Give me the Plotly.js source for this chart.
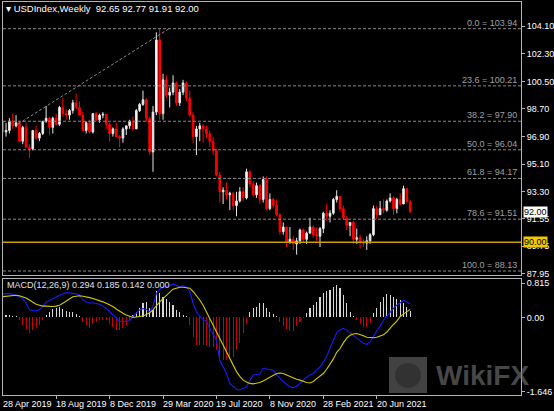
<!DOCTYPE html>
<html><head><meta charset="utf-8">
<script src="https://cdn.plot.ly/plotly-3.0.1.min.js"></script>
<style>html,body{margin:0;padding:0;background:#000;}#chart{width:554px;height:411px;}</style>
</head><body><div id="chart"></div>
<script>
// Weekly bars, first bar = week of 28 Apr 2019 (one bar per week)
const startDate = '2019-04-28';
const open = [97.9,97.2,97.3,97.9,97.6,97.8,96.6,97.5,96.2,96.1,97.3,96.8,97.1,97.9,98.1,97.5,98.1,97.7,98.8,98.4,
98.3,98.6,99.1,98.8,98.3,97.3,97.8,97.2,98.4,98.0,98.3,98.35,97.7,97.1,97.4,96.9,96.8,97.4,97.6,97.9,
97.4,98.6,99.0,99.3,98.1,95.9,98.5,103.2,98.4,100.6,99.6,99.8,100.4,99.1,99.8,100.4,99.4,98.3,96.9,97.4,
97.6,97.4,97.1,96.6,96.0,94.4,93.3,93.4,93.1,93.2,92.4,92.7,93.3,92.9,94.6,93.8,93.1,93.7,92.8,94.1,
92.2,92.8,92.4,91.8,90.7,91.0,90.0,90.2,89.9,90.1,90.8,90.2,90.6,91.0,90.5,90.4,90.9,91.9,91.7,91.9,
92.8,93.0,92.2,91.6,91.1,91.3,90.2,90.3,90.0,89.95,90.1,90.5,92.2,91.8,92.2,92.1,92.7,92.9,92.2,92.8,
92.5,93.5,92.65];
const high = [98.1,97.8,98.1,98.4,98.3,97.9,97.6,97.8,96.4,97.3,97.6,97.2,97.9,98.9,98.2,98.2,98.4,98.9,99.4,98.7,
98.7,99.3,99.7,99.2,98.5,97.9,98.0,98.4,98.5,98.4,98.5,98.4,97.8,97.5,97.8,97.0,97.5,97.6,98.0,98.2,
98.7,99.1,99.9,99.4,98.2,98.9,103.7,103.94,101.0,100.9,100.1,100.9,100.5,100.0,100.6,100.5,99.9,98.5,97.6,97.8,
97.7,97.6,97.3,96.9,96.1,94.6,93.6,93.9,93.3,93.3,93.3,93.6,93.6,94.8,94.7,94.0,93.9,93.8,94.3,94.3,
93.2,92.9,92.8,91.9,91.3,91.0,91.0,90.4,90.3,90.9,90.9,90.7,91.6,91.1,91.0,91.0,92.0,92.5,92.1,92.9,
93.4,93.0,92.4,91.7,91.3,91.4,90.9,90.5,90.2,90.4,90.6,92.4,92.4,92.7,92.8,92.8,93.2,93.0,92.9,93.2,
93.7,93.5,92.77];
const low = [97.0,96.9,97.1,97.4,97.5,96.5,96.4,96.2,95.5,96.0,96.7,96.6,97.0,97.8,97.0,97.1,97.6,97.6,98.2,98.0,
98.0,98.4,98.7,98.3,97.3,97.1,97.1,97.1,97.9,97.8,98.1,97.4,96.6,96.9,96.9,96.2,96.5,97.0,97.4,97.3,
97.4,98.5,98.9,97.9,95.7,94.6,98.3,98.0,98.0,99.4,98.8,99.6,98.9,98.9,99.6,99.2,98.2,96.5,95.7,96.6,
96.5,96.8,96.2,95.7,94.3,92.6,92.5,92.8,92.1,92.1,91.7,92.6,92.7,92.8,93.6,93.0,92.9,92.5,92.6,92.1,
92.1,92.2,91.7,90.5,90.5,89.7,89.9,89.5,89.2,89.9,90.0,89.9,90.6,90.3,90.1,89.7,90.6,91.4,91.3,91.8,
92.6,92.0,91.5,90.8,90.4,89.9,89.9,89.6,89.7,89.5,89.9,90.4,91.5,91.8,91.9,92.0,92.6,91.8,91.9,92.4,
92.5,92.6,91.91];
const close = [97.2,97.3,97.9,97.6,97.8,96.6,97.5,96.2,96.1,97.3,96.8,97.1,97.9,98.1,97.5,98.1,97.7,98.8,98.4,98.3,
98.6,99.1,98.8,98.3,97.3,97.8,97.2,98.4,98.0,98.3,98.35,97.7,97.1,97.4,96.9,96.8,97.4,97.6,97.9,97.4,
98.6,99.0,99.3,98.1,95.9,98.5,103.2,98.4,100.6,99.6,99.8,100.4,99.1,99.8,100.4,99.4,98.3,96.9,97.4,97.6,
97.4,97.1,96.6,96.0,94.4,93.3,93.4,93.1,93.2,92.4,92.7,93.3,92.9,94.6,93.8,93.1,93.7,92.8,94.1,92.2,
92.8,92.4,91.8,90.7,91.0,90.0,90.2,89.9,90.1,90.8,90.2,90.6,91.0,90.5,90.4,90.9,91.9,91.7,91.9,92.8,
93.0,92.2,91.6,91.1,91.3,90.2,90.3,90.0,89.95,90.1,90.5,92.2,91.8,92.2,92.1,92.7,92.9,92.2,92.8,92.5,
93.5,92.65,92.00];

// MACD(12,26,9) panel values
const macdMain = [0.50,0.51,0.51,0.49,0.47,0.44,0.40,0.30,0.17,0.14,0.14,0.16,0.23,0.33,0.36,0.40,0.43,0.47,0.50,0.52,
0.52,0.51,0.50,0.47,0.37,0.33,0.30,0.31,0.30,0.28,0.24,0.19,0.12,0.05,-0.02,-0.08,-0.09,-0.08,-0.07,0.02,
0.10,0.16,0.19,0.17,0.12,0.23,0.51,0.60,0.64,0.66,0.67,0.71,0.68,0.65,0.67,0.64,0.55,0.30,0.12,0.02,
-0.04,-0.09,-0.23,-0.35,-0.48,-0.91,-1.05,-1.19,-1.40,-1.47,-1.53,-1.54,-1.51,-1.47,-1.34,-1.22,-1.21,-1.20,-1.08,-1.09,
-1.10,-1.12,-1.22,-1.30,-1.36,-1.42,-1.47,-1.49,-1.46,-1.40,-1.33,-1.27,-1.22,-1.19,-1.12,-1.05,-0.95,-0.83,-0.65,-0.48,
-0.32,-0.26,-0.23,-0.27,-0.32,-0.38,-0.44,-0.50,-0.55,-0.57,-0.52,-0.40,-0.30,-0.18,-0.06,0.03,0.12,0.19,0.26,0.31,
0.36,0.33,0.29];
const macdSignal = [0.44,0.45,0.46,0.47,0.47,0.46,0.44,0.41,0.37,0.32,0.28,0.26,0.24,0.24,0.23,0.23,0.24,0.26,0.30,0.35,
0.40,0.44,0.45,0.46,0.45,0.44,0.42,0.40,0.38,0.35,0.33,0.30,0.27,0.23,0.18,0.13,0.09,0.05,0.02,0.00,
0.01,0.02,0.03,0.06,0.10,0.16,0.25,0.33,0.40,0.47,0.54,0.60,0.62,0.64,0.64,0.63,0.62,0.55,0.47,0.37,
0.26,0.12,-0.02,-0.16,-0.30,-0.45,-0.59,-0.73,-0.87,-1.01,-1.15,-1.25,-1.33,-1.37,-1.40,-1.41,-1.40,-1.38,-1.35,-1.31,
-1.27,-1.22,-1.19,-1.18,-1.19,-1.22,-1.25,-1.29,-1.31,-1.33,-1.36,-1.38,-1.39,-1.36,-1.30,-1.24,-1.19,-1.10,-0.99,-0.88,
-0.74,-0.66,-0.54,-0.44,-0.38,-0.35,-0.34,-0.36,-0.39,-0.42,-0.43,-0.43,-0.42,-0.40,-0.37,-0.31,-0.22,-0.15,-0.08,0.02,
0.07,0.12,0.17];
const macdHist = [0.06,0.05,0.05,0.04,0.03,-0.06,-0.16,-0.27,-0.33,-0.27,-0.23,-0.16,-0.06,0.05,0.12,0.17,0.21,0.23,0.17,0.14,
0.12,0.12,0.07,0.02,-0.09,-0.16,-0.23,-0.13,-0.09,-0.06,-0.06,-0.06,-0.13,-0.20,-0.27,-0.27,-0.23,-0.16,-0.07,0.05,
0.12,0.19,0.30,0.33,0.21,0.16,0.55,0.51,0.44,0.40,0.33,0.26,0.16,0.12,0.05,0.02,-0.16,-0.41,-0.59,-0.59,
-0.59,-0.59,-0.62,-0.62,-0.69,-0.87,-0.90,-0.90,-0.89,-0.83,-0.69,-0.55,-0.34,-0.15,0.12,0.19,0.23,0.30,0.30,0.19,
0.12,0.07,0.02,-0.09,-0.18,-0.25,-0.28,-0.28,-0.18,-0.09,-0.02,0.09,0.19,0.26,0.33,0.44,0.51,0.55,0.58,0.65,
0.69,0.62,0.48,0.30,0.12,0.03,-0.06,-0.14,-0.20,-0.21,-0.11,0.09,0.19,0.33,0.44,0.49,0.47,0.44,0.40,0.37,
0.30,0.23,0.14];

// Fibonacci retracement levels and labels
const fibLevels = [103.94,100.21,97.90,96.04,94.17,91.51,88.13];
const fibLabels = ['0.0 = 103.94','23.6 = 100.21','38.2 = 97.90','50.0 = 96.04','61.8 = 94.17','78.6 = 91.51','100.0 = 88.13'];
const supportLevel = 90.00;
const lastPrice = 92.00;
// Trend line (bar index, price)
const trendFrom = [4.6, 97.72];
const trendTo = [50.1, 103.98];

// Axis ticks
const priceTicks = [104.10,102.30,100.50,98.70,96.90,95.10,93.30,91.55,89.75,87.95];
const priceTickText = ['104.10','102.30','100.50','98.70','96.90','95.10','93.30','91.55','89.75','87.95'];
const dateTickIdx = [0,16,32,48,64,80,96,112];
const dateTickText = ['28 Apr 2019','18 Aug 2019','8 Dec 2019','29 Mar 2020','19 Jul 2020','8 Nov 2020','28 Feb 2021','20 Jun 2021'];
const macdTickVals = [0.73,0,-1.58];
const macdTickText = ['0.815','0.00','-1.646'];

const WEEK = 7*864e5;
const t0 = Date.parse(startDate+'T00:00:00Z');
const dx = i => t0 + i*WEEK;
const iso = i => new Date(dx(i)).toISOString().slice(0,10);
const dates = close.map((_,i)=>iso(i));
const X0 = 0.09, X1 = 155.18;
const xr = [dx(X0), dx(X1)];

const FONT = 'Liberation Sans, Arial, sans-serif';
const AX = '#b4b4b4';

const traces = [
 {type:'candlestick', x:dates, open:open, high:high, low:low, close:close, xaxis:'x', yaxis:'y',
  increasing:{line:{color:'#e6e6e6',width:1}, fillcolor:'#ffffff'},
  decreasing:{line:{color:'#ff0000',width:1}, fillcolor:'#ff0000'},
  whiskerwidth:0, hoverinfo:'skip', showlegend:false},
 {type:'bar', x:dates, y:macdHist, xaxis:'x2', yaxis:'y2', width:0.33*WEEK,
  marker:{color:macdHist.map(v=>v>=0?'#d8d8d8':'#c80000'), line:{width:0}}, hoverinfo:'skip', showlegend:false},
 {type:'scatter', mode:'lines', x:dates, y:macdMain, xaxis:'x2', yaxis:'y2', line:{color:'#1a1aff',width:1.1}, hoverinfo:'skip', showlegend:false},
 {type:'scatter', mode:'lines', x:dates, y:macdSignal, xaxis:'x2', yaxis:'y2', line:{color:'#d2c800',width:1.1}, hoverinfo:'skip', showlegend:false}
];

const shapes = fibLevels.map(v=>({type:'line', xref:'paper', yref:'y', x0:0, x1:1, y0:v, y1:v,
  line:{color:'#8a8a8a', width:1, dash:'3px,2px'}}));
shapes.push({type:'line', xref:'paper', yref:'y', x0:0, x1:1, y0:supportLevel, y1:supportLevel, line:{color:'#c8a000', width:1.5}});
shapes.push({type:'line', xref:'x', yref:'y', x0:dx(trendFrom[0]), y0:trendFrom[1], x1:dx(trendTo[0]), y1:trendTo[1], line:{color:'#8a8a8a', width:1, dash:'3px,2px'}});
// watermark logo
shapes.push({type:'rect', xref:'paper', yref:'paper', x0:(389-3)/518, x1:(427-3)/518, y0:(395-393)/393, y1:(395-357)/393,
  fillcolor:'rgba(120,120,120,0.55)', line:{width:0}, layer:'above'});
shapes.push({type:'circle', xref:'paper', yref:'paper', x0:(395-3)/518, x1:(421-3)/518, y0:(395-388)/393, y1:(395-363)/393,
  fillcolor:'rgba(40,40,40,0.6)', line:{width:0}, layer:'above'});

const annotations = [];
fibLevels.forEach((v,k)=>annotations.push({xref:'paper', yref:'y', x:(519-3)/518, y:v, xanchor:'right', yanchor:'bottom',
  text:fibLabels[k], showarrow:false, font:{family:FONT, size:9, color:'#a0a0a0'}, yshift:-1}));
// date labels: left-aligned at their tick (paper coords so the first one at the edge is kept)
dateTickIdx.forEach((idx,k)=>annotations.push({xref:'paper', yref:'paper', x:Math.max(0,(idx-X0)/(X1-X0)), y:(395-404)/393,
  xanchor:'left', yanchor:'middle', text:dateTickText[k], showarrow:false, font:{family:FONT, size:9, color:'#ffffff'}, xshift:-2}));
annotations.push({xref:'paper', yref:'y', x:(523-3)/518, y:lastPrice, xanchor:'left', yanchor:'middle', text:'92.00', showarrow:false,
  bgcolor:'#ffffff', font:{family:FONT, size:9, color:'#000'}, borderpad:0});
annotations.push({xref:'paper', yref:'y', x:(523-3)/518, y:supportLevel, xanchor:'left', yanchor:'middle', text:'90.00', showarrow:false,
  bgcolor:'#f0c800', font:{family:FONT, size:9, color:'#000'}, borderpad:0});
annotations.push({xref:'paper', yref:'paper', x:(4-3)/518, y:(395-9)/393, xanchor:'left', yanchor:'middle',
  text:'▾ USDIndex,Weekly  92.65 92.77 91.91 92.00', showarrow:false, font:{family:FONT, size:9.5, color:'#ffffff'}});
annotations.push({xref:'paper', yref:'paper', x:(5-3)/518, y:(395-285)/393, xanchor:'left', yanchor:'middle',
  text:'MACD(12,26,9) 0.294 0.185 0.142 0.000', showarrow:false, font:{family:FONT, size:9, color:'#e0e0e0'}});
annotations.push({xref:'paper', yref:'paper', x:(434-3)/518, y:(395-375)/393, xanchor:'left', yanchor:'middle',
  text:'<b>WikiFX</b>', showarrow:false, font:{family:FONT, size:28, color:'rgba(120,120,120,0.6)'}});

const layout = {
  width:554, height:411, paper_bgcolor:'#000', plot_bgcolor:'#000',
  margin:{l:3, r:33, t:2, b:16}, showlegend:false, hovermode:false, bargap:0,
  font:{family:FONT, size:9, color:'#ffffff'},
  xaxis:{type:'date', domain:[0,1], anchor:'y', range:xr, showticklabels:false, ticks:'', showgrid:false, zeroline:false,
    showline:true, mirror:true, linecolor:AX, linewidth:1, rangeslider:{visible:false}},
  xaxis2:{type:'date', domain:[0,1], anchor:'y2', matches:'x', range:xr, showgrid:false, zeroline:false,
    showline:true, mirror:true, linecolor:AX, linewidth:1, showticklabels:false,
    tickvals:dateTickIdx.map(iso), ticks:'outside', ticklen:3, tickcolor:AX},
  yaxis:{domain:[(395-275)/393, 1], anchor:'x', side:'right', range:[87.87,105.68], tickvals:priceTicks, ticktext:priceTickText,
    ticks:'outside', ticklen:3, tickcolor:AX, showgrid:false, zeroline:false, showline:true, mirror:true, linecolor:AX,
    tickfont:{family:FONT, size:9, color:'#ffffff'}},
  yaxis2:{domain:[0,(395-279)/393], anchor:'x2', side:'right', range:[-1.646,0.815], tickvals:macdTickVals, ticktext:macdTickText,
    ticks:'outside', ticklen:3, tickcolor:AX, showgrid:false, zeroline:false, showline:true, mirror:true, linecolor:AX,
    tickfont:{family:FONT, size:9, color:'#ffffff'}},
  shapes:shapes, annotations:annotations
};
Plotly.newPlot('chart', traces, layout, {staticPlot:true, displayModeBar:false});
</script></body></html>
